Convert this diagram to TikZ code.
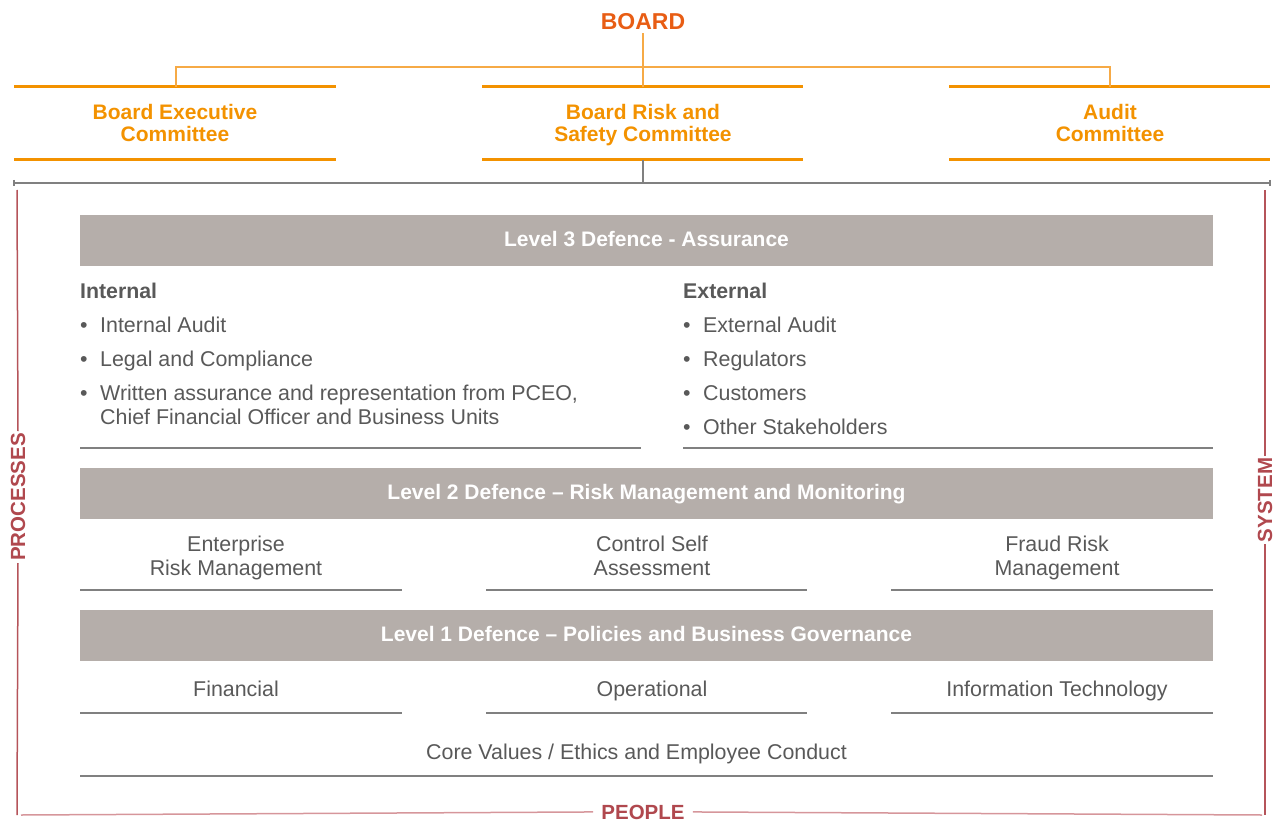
\documentclass[tikz,border=0pt]{standalone}
\usepackage{fontspec}
\setmainfont{Liberation Sans}
\usetikzlibrary{positioning}
\definecolor{boardred}{RGB}{232,93,20}
\definecolor{commorange}{RGB}{243,146,0}
\definecolor{linkorange}{RGB}{246,170,70}
\definecolor{textgrey}{RGB}{89,89,89}
\definecolor{rulegrey}{RGB}{128,128,128}
\definecolor{barfill}{RGB}{181,174,170}
\definecolor{framered}{RGB}{181,84,90}
\definecolor{framepink}{RGB}{214,150,155}
\definecolor{framelabel}{RGB}{176,72,78}

\begin{document}
\begin{tikzpicture}[x=1pt, y=-1pt,% one unit = one pixel, y downwards
 every node/.style = {inner sep=0pt, text=textgrey,
                      font=\fontsize{21.4}{24}\selectfont},
      comm/.style = {text=commorange, align=center, anchor=base,
                     font=\bfseries\fontsize{21}{21.5}\selectfont},
  commline/.style = {draw=commorange, line width=3pt},
      link/.style = {draw=linkorange, line width=1.5pt},
      rule/.style = {draw=rulegrey, line width=2pt},
       bar/.style = {fill=barfill, text=white,
                     minimum width=1133pt, minimum height=51pt,
                     text height=15pt, text depth=4pt,
                     font=\bfseries\fontsize{21}{24}\selectfont},
      item/.style = {anchor=base west},
      head/.style = {anchor=base west,
                     font=\bfseries\fontsize{21.3}{24}\selectfont},
     frame/.style = {draw=framered, line width=1.5pt},
    flabel/.style = {text=framelabel, inner sep=2pt,
                     font=\bfseries\fontsize{20.5}{24}\selectfont}
                    ]
\useasboundingbox (0,0) rectangle (1279,821);

	% board and committees (base = baseline of the last line)
	\node[text=boardred, font=\bfseries\fontsize{23}{26}\selectfont,
	      outer sep=3pt] (board) at (643,22) {BOARD};
	\node[comm] (bec)  at (175,141.5) {Board Executive\\Committee};
	\node[comm] (brsc) at (643,141.5) {Board Risk and\\Safety Committee};
	\node[comm] (ac)   at (1110,141.5) {Audit\\Committee};

	\coordinate (bec top)  at (176,87);
	\coordinate (brsc top) at (643,87);
	\coordinate (ac top)   at (1110,87);
	\coordinate (brsc bot) at (643,160);
	\coordinate (split)    at (643,183);

	\draw[commline] (14,87)  -- (336,87)  (14,160)  -- (336,160);
	\draw[commline] (482,87) -- (803,87)  (482,160) -- (803,160);
	\draw[commline] (949,87) -- (1270,87) (949,160) -- (1270,160);

	\draw[link] (board) -- (brsc top);
	\draw[link] (bec top) -- ++(0,-20) -| (ac top);

	\draw[draw=rulegrey, line width=1.5pt] (brsc bot) -- (split);
	\draw[draw=rulegrey, line width=1.5pt] (14,183) -- (1270,183);
	\draw[draw=rulegrey, line width=1.5pt] (14,180) -- (14,186) (1270,180) -- (1270,186);

	% level 3
	\node[bar] (lvl3) at (646.5,240.5) {Level 3 Defence - Assurance};

	\node[head] (int) at (80,298) {Internal};
	\node[item] (int a) at (80,332) {•\hspace{12.5pt}Internal Audit};
	\node[item] (int b) at (80,366) {•\hspace{12.5pt}Legal and Compliance};
	\node[item] (int c) at (80,400) {•\hspace{12.5pt}Written assurance and representation from PCEO,};
	\node[item] (int d) at (100,424) {Chief Financial Officer and Business Units};

	\node[head] (ext) at (683,298) {External};
	\node[item] (ext a) at (683,332) {•\hspace{12.5pt}External Audit};
	\node[item] (ext b) at (683,366) {•\hspace{12.5pt}Regulators};
	\node[item] (ext c) at (683,400) {•\hspace{12.5pt}Customers};
	\node[item] (ext d) at (683,434) {•\hspace{12.5pt}Other Stakeholders};

	\draw[rule] (80,448) -- (641,448);
	\draw[rule] (683,448) -- (1213,448);

	% level 2
	\node[bar] (lvl2) at (646.5,493.5) {Level 2 Defence – Risk Management and Monitoring};

	\node[align=center, anchor=base] (erm) at (236,575) {Enterprise\\Risk Management};
	\node[align=center, anchor=base] (csa) at (652,575) {Control Self\\Assessment};
	\node[align=center, anchor=base] (frm) at (1057,575) {Fraud Risk\\Management};

	\draw[rule] (80,590) -- (402,590);
	\draw[rule] (486,590) -- (807,590);
	\draw[rule] (891,590) -- (1213,590);

	% level 1
	\node[bar] (lvl1) at (646.5,635.5) {Level 1 Defence – Policies and Business Governance};

	\node[anchor=base] (fin) at (236,696) {Financial};
	\node[anchor=base] (ops) at (652,696) {Operational};
	\node[anchor=base] (it)  at (1057,696) {Information Technology};

	\draw[rule] (80,713) -- (402,713);
	\draw[rule] (486,713) -- (807,713);
	\draw[rule] (891,713) -- (1213,713);

	\node[anchor=base] (core) at (636.5,759) {Core Values / Ethics and Employee Conduct};
	\draw[rule] (80,776) -- (1213,776);

	% frame: processes, system, people
	\coordinate (ftl) at (17,190);
	\coordinate (fbl) at (17,815);
	\coordinate (ftr) at (1265,190);
	\coordinate (fbr) at (1265,815);
	\coordinate (bl)  at (21,815);
	\coordinate (br)  at (1262,815);

	\node[flabel, rotate=90] (proc) at (18,497) {PROCESSES};
	\node[flabel, rotate=90] (sys)  at (1265,500) {SYSTEM};
	\node[flabel, anchor=base, inner sep=0pt] (ppl) at (643,819) {PEOPLE};

	\draw[frame] (ftl) -- (proc.east);
	\draw[frame] (proc.west) -- (fbl);
	\draw[frame] (ftr) -- (sys.east);
	\draw[frame] (sys.west) -- (fbr);
	\draw[draw=framepink, line width=1.5pt] (bl) -- ([xshift=-8pt]ppl.west);
	\draw[draw=framepink, line width=1.5pt] ([xshift=8pt]ppl.east) -- (br);
\end{tikzpicture}
\end{document}
